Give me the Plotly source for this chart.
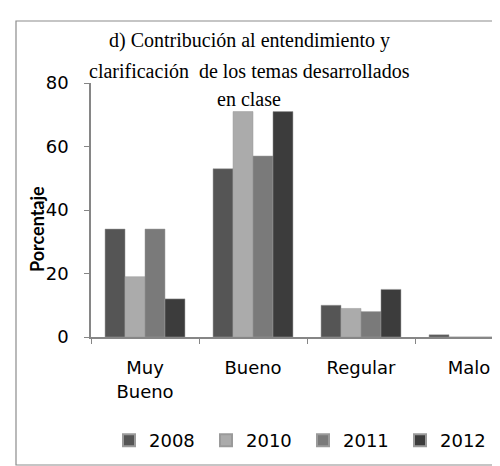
import plotly.graph_objects as go

categories = ["Muy<br>Bueno", "Bueno", "Regular", "Malo"]
years = ["2008", "2010", "2011", "2012"]
v2008 = [34, 53, 10, 0.7]
v2010 = [19, 71, 9, 0]
v2011 = [34, 57, 8, 0]
v2012 = [12, 71, 15, 0]
series = [v2008, v2010, v2011, v2012]
colors = ["#555555", "#ababab", "#7a7a7a", "#3c3c3c"]
title_lines = ["d) Contribución al entendimiento y",
               "clarificación  de los temas desarrollados",
               "en clase"]

OFF = 8  # browser body margin
W, H = 500 - OFF, 466 - OFF
L, R, T, B = 91 - OFF, 0, 83 - OFF, 466 - 337
FONT = "DejaVu Sans"

fig = go.Figure()
for name, vals, c in zip(years, series, colors):
    fig.add_trace(go.Bar(x=categories, y=vals, name=name,
                         marker=dict(color=c, line=dict(color="#9a9a9a", width=0.5))))

pw = W - L - R
ph = H - T - B
def px2x(p):
    return (p - OFF - L) / pw
def py2y(p):
    return (H - B - (p - OFF)) / ph

fig.update_layout(
    width=W, height=H,
    margin=dict(l=L, r=R, t=T, b=B, autoexpand=False),
    plot_bgcolor="white", paper_bgcolor="white",
    barmode="group", bargap=0.26, bargroupgap=0,
    font=dict(family=FONT, size=17, color="#000000"),
    showlegend=True,
    legend=dict(orientation="h", x=px2x(109), xanchor="left", y=py2y(422), yanchor="top",
                font=dict(size=18), entrywidth=52, entrywidthmode="pixels",
                itemsizing="constant"),
    xaxis=dict(range=[-0.5, -0.5 + pw / 108.0], showline=True, linecolor="#868686", linewidth=1.5,
               ticks="outside", tickson="boundaries", ticklen=5, tickcolor="#868686",
               showgrid=False, ticklabelstandoff=14, tickfont=dict(size=18)),
    yaxis=dict(range=[0, 80], tickvals=[0, 20, 40, 60, 80], showline=True, linecolor="#868686",
               linewidth=1.5, ticks="outside", ticklen=5, tickcolor="#868686", showgrid=False,
               ticklabelstandoff=12, tickfont=dict(size=18), zeroline=False),
)

# Outer chart border
fig.add_shape(type="rect", xref="paper", yref="paper",
              x0=px2x(16), x1=px2x(540), y0=py2y(465), y1=py2y(21),
              line=dict(color="#8c8c8c", width=1.2), layer="below")

# Title (three lines, spaced like the reference)
for line, yc in zip(title_lines, [40, 71, 99]):
    fig.add_annotation(xref="paper", yref="paper", x=px2x(249), y=py2y(yc), yanchor="middle",
                       xanchor="center", showarrow=False, text=line,
                       font=dict(family="Liberation Serif", size=20, color="#000000"))

# Y axis title
fig.add_annotation(xref="paper", yref="paper", x=px2x(37), y=py2y(229), showarrow=False,
                   textangle=-90, text="<b>Porcentaje</b>", font=dict(family="Lato", size=18),
                   xanchor="center", yanchor="middle")

fig.write_html("out.html")
